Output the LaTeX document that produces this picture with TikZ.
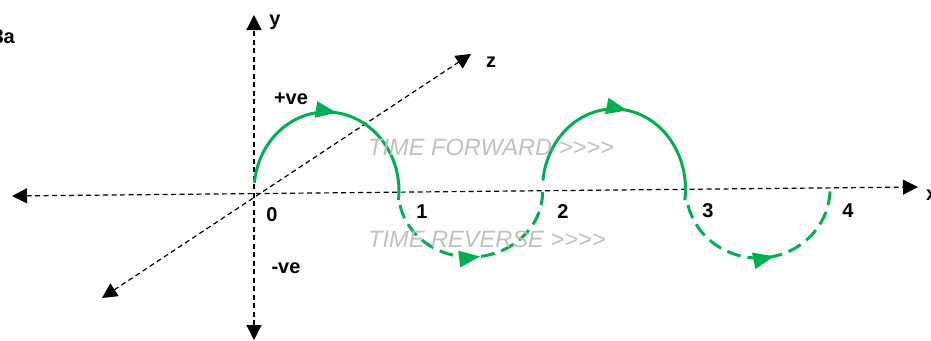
\documentclass[tikz,border=0pt]{standalone}
\usepackage{fontspec}
\setmainfont{Liberation Sans}
\usetikzlibrary{arrows.meta,decorations.markings}
\definecolor{vgreen}{HTML}{00B050}
\definecolor{tgray}{HTML}{C0C0C0}
\newcommand{\gtchars}{\hbox{>}\hbox{>}\hbox{>}\hbox{>}}
\begin{document}
\begin{tikzpicture}[x=1pt,y=-1pt,
  axis/.style={line width=1.2pt, dash pattern=on 5pt off 3.5pt,
    {Triangle[length=15pt,width=15pt]}-{Triangle[length=15pt,width=15pt]}},
  garc/.style={vgreen, line width=3pt, postaction={decorate},
    decoration={markings, mark=at position #1 with {\arrow{Triangle[length=21pt,width=16pt]}}}},
  gdash/.style={dash pattern=on 14pt off 7pt},
  lbl/.style={font=\fontsize{20}{24}\selectfont\bfseries, anchor=base, inner sep=0pt},
  ttext/.style={font=\fontsize{23.6}{28}\selectfont\itshape, text=tgray, anchor=base west, inner sep=0pt}
]
\useasboundingbox (0,0) rectangle (931,340);
% axes
\coordinate (xl) at (12,196);
\coordinate (xr) at (918,187);
\coordinate (yt) at (254,15);
\coordinate (yb) at (254,340);
\coordinate (zl) at (102,298);
\coordinate (zr) at (471,54);
\draw[axis] (xl) -- (xr);
\draw[axis] (yb) -- (yt);
\draw[axis] (zl) -- (zr);
% green arcs
\coordinate (s1) at (254.4,182.7);
\coordinate (s2) at (400,205);
\coordinate (s3) at (542.9,180.6);
\coordinate (s4) at (688,205);
\draw[garc=0.507] (s1) arc[start angle=186, end angle=366.5, x radius=72.5, y radius=79];
\draw[garc=0.515, gdash] (s2) arc[start angle=168.5, end angle=0, x radius=72, y radius=65];
\draw[garc=0.515] (s3) arc[start angle=186, end angle=368, x radius=71.5, y radius=80];
\draw[garc=0.54, gdash] (s4) arc[start angle=166.6, end angle=0, x radius=72, y radius=69];
% labels
\node[lbl] (ly) at (275,25) {y};
\node[lbl] (lz) at (491,67) {z};
\node[lbl, anchor=base west] (lx) at (926,200) {x};
\node[lbl, anchor=base east] (l3a) at (15,43) {3a};
\node[lbl] (lp) at (291,104) {+ve};
\node[lbl] (lm) at (286,273) {-ve};
\node[lbl] (l0) at (272,221) {0};
\node[lbl] (l1) at (422,218) {1};
\node[lbl] (l2) at (563,218) {2};
\node[lbl] (l3) at (708,217) {3};
\node[lbl] (l4) at (848,217) {4};
\node[ttext] (tf) at (368,155) {TIME FORWARD \gtchars};
\node[ttext] (tr) at (368,247) {TIME REVERSE \gtchars};
\end{tikzpicture}
\end{document}
